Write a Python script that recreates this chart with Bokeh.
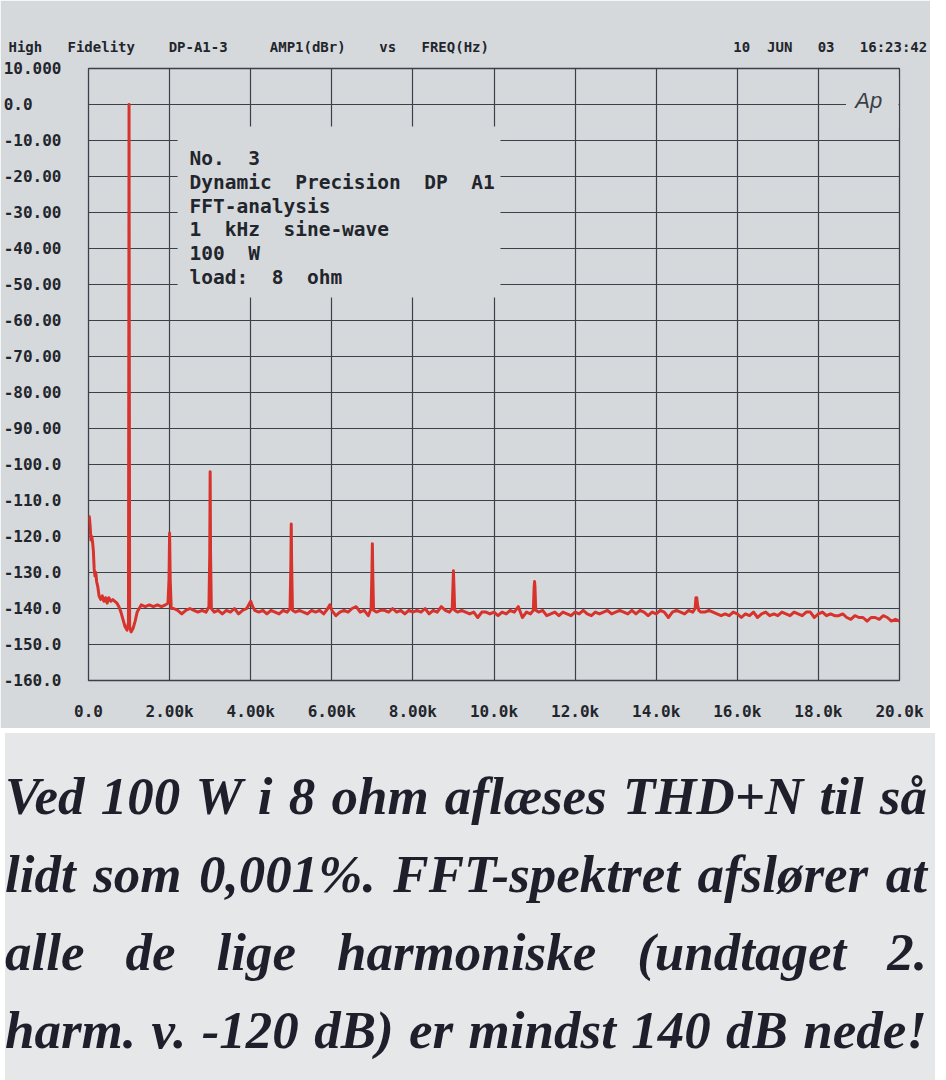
from bokeh.plotting import figure
from bokeh.models import Range1d, FixedTicker, Label, BoxAnnotation, Div, Title
from bokeh.layouts import column
from bokeh.embed import file_html
from bokeh.resources import INLINE

# ---------------- data ----------------
freq_hz = [
    0, 20, 40, 60, 80, 100, 120, 140, 160, 180, 200, 230, 260, 300, 340, 380, 420, 460, 500,
    550, 600, 650, 700, 750, 800, 850, 900, 950, 985, 995, 1000, 1005, 1015, 1050, 1100, 1150,
    1200, 1250, 1300, 1400, 1500, 1600, 1700, 1800, 1900, 1960, 1985, 2000, 2015, 2040,
    2100, 2200, 2300, 2400, 2500, 2600, 2700, 2800, 2900, 2970, 2990, 3000, 3010, 3030,
    3100, 3200, 3300, 3400, 3500, 3600, 3700, 3800, 3900, 3950, 4000, 4050,
    4100, 4200, 4300, 4400, 4500, 4600, 4700, 4800, 4900, 4970, 4990, 5000, 5010, 5030,
    5100, 5200, 5300, 5400, 5500, 5600, 5700, 5800, 5900, 5950, 6000,
    6100, 6200, 6300, 6400, 6500, 6600, 6700, 6800, 6900, 6970, 6990, 7000, 7010, 7030,
    7100, 7200, 7300, 7400, 7500, 7600, 7700, 7800, 7900, 8000,
    8100, 8200, 8300, 8400, 8500, 8600, 8700, 8800, 8900, 8970, 8990, 9000, 9010, 9030,
    9100, 9200, 9300, 9400, 9500, 9600, 9700, 9800, 9900, 10000,
    10100, 10200, 10300, 10400, 10500, 10600, 10700, 10800, 10900, 10970, 10990, 11000, 11010, 11030,
    11100, 11200, 11300, 11400, 11500, 11600, 11700, 11800, 11900, 12000,
    12100, 12200, 12300, 12400, 12500, 12600, 12700, 12800, 12900, 13000,
    13100, 13200, 13300, 13400, 13500, 13600, 13700, 13800, 13900, 14000,
    14100, 14200, 14300, 14400, 14500, 14600, 14700, 14800, 14900, 14960, 14980, 15000, 15020, 15050,
    15100, 15200, 15300, 15400, 15500, 15600, 15700, 15800, 15900, 16000,
    16100, 16200, 16300, 16400, 16500, 16600, 16700, 16800, 16900, 17000,
    17100, 17200, 17300, 17400, 17500, 17600, 17700, 17800, 17900, 18000,
    18100, 18200, 18300, 18400, 18500, 18600, 18700, 18800, 18900, 19000,
    19100, 19200, 19300, 19400, 19500, 19600, 19700, 19800, 19900, 20000,
]
level_db = [
    -115, -114.5, -117, -121, -120, -121.5, -124, -129, -131, -130, -132.5, -134, -136.5, -137.5, -136.5, -138, -137, -138.5, -137,
    -138, -137.5, -138, -138.5, -139.5, -141, -143, -145, -146, -144, -60, 0, -60, -145, -146.5, -145.5, -143.5,
    -141, -140, -139, -139.5, -139, -139.5, -139, -139.5, -139, -138.5, -132, -119, -132, -140,
    -140, -140.5, -141.5, -140.5, -140, -140.5, -141, -140.5, -141, -139.5, -125, -102, -125, -140,
    -141, -140.5, -141.5, -140.5, -141, -140, -141.5, -140.5, -140, -139, -138, -139.5,
    -140.5, -141, -140.5, -141.5, -140.5, -141, -141.5, -140.5, -141, -140, -128, -116.5, -128, -140.5,
    -141, -140.5, -141, -141.5, -140.5, -141, -140.5, -141.5, -140, -139, -140.5,
    -142, -141, -140.5, -141, -140, -139.5, -141, -140.5, -142, -140, -130, -122, -130, -140.5,
    -141, -140.5, -140.5, -141, -140, -141, -140.5, -141.5, -140.5, -141,
    -140.5, -141, -140, -141.5, -140.5, -141, -139.5, -140.5, -141, -140, -133, -129.5, -133, -140.5,
    -141, -140.5, -141, -141.5, -141, -142.5, -141, -141, -141.5, -141,
    -142, -141, -141.5, -140.5, -141, -139.5, -142.5, -141, -141.5, -140.5, -134, -132.5, -134, -140.5,
    -141, -140.5, -142, -141.5, -141, -142, -141, -141.5, -142, -141,
    -141.5, -140.5, -141.5, -142, -141, -141.5, -141, -140.5, -141.5, -141,
    -140.5, -141, -141.5, -140.5, -141.5, -140.5, -141, -142, -141, -141.5,
    -140.5, -141, -142.5, -141, -140.5, -141, -141.5, -140.5, -141, -140, -137, -137, -139, -140.5,
    -141, -141, -140.5, -141, -141.5, -142, -141.5, -142, -141, -141.5,
    -142.5, -141.5, -142, -141, -142.5, -141.5, -141, -142, -141.5, -142,
    -141, -141.5, -142, -141, -141.5, -142, -141, -141, -142.5, -141.5,
    -141, -142, -141.5, -142, -142, -141.5, -142.5, -143, -142, -142.5,
    -142.5, -143.5, -142.5, -142.5, -143, -142, -142.5, -143.5, -143, -143.5,
]

x_ticks = [0, 2000, 4000, 6000, 8000, 10000, 12000, 14000, 16000, 18000, 20000]
x_tick_labels = ["0.0", "2.00k", "4.00k", "6.00k", "8.00k", "10.0k",
                 "12.0k", "14.0k", "16.0k", "18.0k", "20.0k"]
y_ticks = [10, 0, -10, -20, -30, -40, -50, -60, -70, -80, -90,
           -100, -110, -120, -130, -140, -150, -160]
y_tick_labels = ["10.000", "0.0   ", "-10.00", "-20.00", "-30.00", "-40.00", "-50.00",
                 "-60.00", "-70.00", "-80.00", "-90.00", "-100.0", "-110.0", "-120.0",
                 "-130.0", "-140.0", "-150.0", "-160.0"]

header_left = "High   Fidelity    DP-A1-3     AMP1(dBr)    vs   FREQ(Hz)"
header_right = "10  JUN   03   16:23:42"
info_lines = ["No.  3", "Dynamic  Precision  DP  A1", "FFT-analysis",
              "1  kHz  sine-wave", "100  W", "load:  8  ohm"]
logo_text = "Ap"
caption_lines = [
    "Ved 100 W i 8 ohm aflæses THD+N til så",
    "lidt som 0,001%. FFT-spektret afslører at",
    "alle de lige harmoniske (undtaget 2.",
    "harm. v. -120 dB) er mindst 140 dB nede!",
]

# ---------------- styling ----------------
BG = "#d6d9dc"
PAGE = "#e5e7e9"
GRID = "#3b4148"
INK = "#22262c"
RED = "#d7332c"
MONO = "DejaVu Sans Mono"

W, H = 930, 728
X0, X1, Y0, Y1 = 0, 20000, -160, 10
FRAME_L, FRAME_R, FRAME_T, FRAME_B = 80, 899, 68, 680   # figure pixels
PAGE_DX = 8                                             # figure x -> page x


def hz_at(page_x):
    return X0 + (page_x - PAGE_DX - FRAME_L) / (FRAME_R - FRAME_L) * (X1 - X0)


def db_at(page_y):
    return Y1 - (page_y - FRAME_T) / (FRAME_B - FRAME_T) * (Y1 - Y0)


def nb(s):
    return s.replace(" ", "\u00a0")


p = figure(width=W, height=H, x_range=Range1d(X0, X1), y_range=Range1d(Y0, Y1),
           output_backend="svg", toolbar_location=None,
           min_border_left=FRAME_L, min_border_right=W - FRAME_R,
           min_border_top=FRAME_T, min_border_bottom=H - FRAME_B,
           background_fill_color=BG, border_fill_color=BG,
           outline_line_color=GRID, outline_line_width=1.3)

for ax, ticks, labels in ((p.xaxis, x_ticks, x_tick_labels), (p.yaxis, y_ticks, y_tick_labels)):
    ax.ticker = FixedTicker(ticks=ticks)
    ax.major_label_overrides = {t: nb(l) for t, l in zip(ticks, labels)}
    ax.axis_line_color = None
    ax.major_tick_line_color = None
    ax.minor_tick_line_color = None
    ax.major_label_text_font = MONO
    ax.major_label_text_font_style = "bold"
    ax.major_label_text_font_size = "16px"
    ax.major_label_text_color = INK
p.xaxis.major_label_standoff = 15
p.yaxis.major_label_standoff = 21

for g in (p.xgrid, p.ygrid):
    g.grid_line_color = GRID
    g.grid_line_width = 1.2
    g.grid_line_alpha = 1.0

# header line of the analyser printout (monospace, padded to full width)
header = nb(header_left) + "\u00a0" * 29 + nb(header_right)
p.add_layout(Title(text=header, align="left", offset=-FRAME_L, standoff=28,
                   text_font=MONO, text_font_style="bold", text_font_size="14px",
                   text_color=INK), "above")

# blank panel behind the measurement notes and behind the logo
p.add_layout(BoxAnnotation(left=hz_at(178), right=hz_at(504), top=db_at(126), bottom=db_at(297),
                           fill_color=BG, fill_alpha=1, line_color=None))
p.add_layout(BoxAnnotation(left=hz_at(853), right=hz_at(906), top=db_at(78),
                           bottom=db_at(128), fill_color=BG, fill_alpha=1, line_color=None))

p.line(freq_hz, level_db, line_color=RED, line_width=3, line_join="round")

for i, line in enumerate(info_lines):
    p.add_layout(Label(x=hz_at(190), y=db_at(158 + 23.8 * i), text=nb(line), text_align="left",
                       text_baseline="middle", text_font=MONO, text_font_style="bold",
                       text_font_size="19.5px", text_color=INK))
p.add_layout(Label(x=hz_at(876), y=db_at(100), text=logo_text, text_align="center",
                   text_baseline="middle", text_font="Liberation Sans", text_font_style="italic",
                   text_font_size="22px", text_color="#3a3f46"))

rows = "".join(
    f'<div style="text-align:justify;text-align-last:justify;white-space:nowrap;">{line}</div>'
    for line in caption_lines)
caption = Div(
    text=(f'<div style="width:922px;padding-top:24px;font-family:\'Liberation Serif\',serif;'
          f'font-weight:bold;font-style:italic;font-size:53px;line-height:78px;color:#1e1f2b;">'
          f'{rows}</div>'),
    width=W, height=352, styles={"background-color": PAGE})

layout = column(p, caption, spacing=0)
open("out.html", "w").write(file_html(layout, INLINE))
